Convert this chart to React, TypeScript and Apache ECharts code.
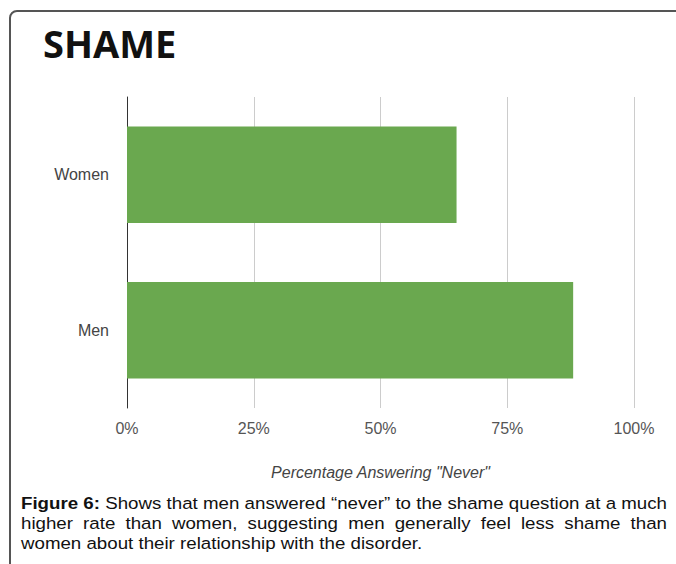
import React, { useEffect, useRef } from "react";
import * as echarts from "echarts";

const categories = ["Women", "Men"];
const neverPct = [65, 88];
const xTicks = [0, 25, 50, 75, 100];
const chartTitle = "SHAME";
const axisName = 'Percentage Answering "Never"';
const captionBold = "Figure 6:";
const captionLines = [
  "Shows that men answered \u201cnever\u201d to the shame question at a much",
  "higher rate than women, suggesting men generally feel less shame than",
  "women about their relationship with the disorder.",
];

const W = 676;
const H = 564;
const SANS = '"Liberation Sans", Arial, sans-serif';
const CAP_SIZE = 17;
const CAP_SX = 1.1;
const CAP_LEFT = 21;
const CAP_RIGHT = 667;
const CAP_Y = [503, 523.5, 543];

function buildCaption(): any[] {
  const cv = document.createElement("canvas");
  const ctx = cv.getContext("2d")!;
  const measure = (t: string, bold: boolean) => {
    ctx.font = `${bold ? "bold " : ""}${CAP_SIZE}px ${SANS}`;
    return ctx.measureText(t).width * CAP_SX;
  };
  const out: any[] = [];
  captionLines.forEach((line, i) => {
    const words: { t: string; b: boolean }[] = [];
    if (i === 0) words.push({ t: captionBold, b: true });
    line.split(" ").forEach((w) => words.push({ t: w, b: false }));
    const widths = words.map((w) => measure(w.t, w.b));
    const total = widths.reduce((a, b) => a + b, 0);
    const justify = i < captionLines.length - 1;
    const gap = justify
      ? (CAP_RIGHT - CAP_LEFT - total) / (words.length - 1)
      : measure(" ", false);
    let x = CAP_LEFT;
    words.forEach((w, k) => {
      out.push({
        type: "text",
        x,
        y: CAP_Y[i],
        scaleX: CAP_SX,
        silent: true,
        style: {
          text: w.t,
          fontSize: CAP_SIZE,
          fontFamily: SANS,
          fontWeight: w.b ? "bold" : "normal",
          fill: "#111",
          align: "left",
          verticalAlign: "middle",
        },
      });
      x += widths[k] + gap;
    });
  });
  return out;
}

export default function App() {
  const ref = useRef<HTMLDivElement>(null);
  useEffect(() => {
    if (!ref.current) return;
    const chart = echarts.init(ref.current, undefined, { renderer: "svg" });
    const option: any = {
      animation: false,
      backgroundColor: "#fff",
      grid: { left: 127, right: W - 634, top: 97, bottom: H - 408, containLabel: false },
      xAxis: {
        type: "value",
        min: xTicks[0],
        max: xTicks[xTicks.length - 1],
        interval: xTicks[1] - xTicks[0],
        name: axisName,
        nameLocation: "middle",
        nameGap: 56,
        nameTextStyle: {
          fontStyle: "italic",
          fontSize: 16,
          color: "#444",
          fontFamily: SANS,
        },
        axisLine: { show: false },
        axisTick: { show: false },
        axisLabel: {
          formatter: "{value}%",
          fontSize: 16,
          color: "#555",
          fontFamily: SANS,
          margin: 12,
        },
        splitLine: { show: true, lineStyle: { color: "#cccccc", width: 1 } },
      },
      yAxis: {
        type: "category",
        data: categories,
        inverse: true,
        axisLine: { show: true, lineStyle: { color: "#333", width: 1 } },
        axisTick: { show: false },
        axisLabel: { fontSize: 16, color: "#444", fontFamily: SANS, margin: 18 },
        splitLine: { show: false },
      },
      series: [
        {
          type: "bar",
          data: neverPct,
          barCategoryGap: "38%",
          itemStyle: { color: "#6aa84f" },
          silent: true,
        },
      ],
      graphic: [
        {
          type: "rect",
          silent: true,
          shape: { x: 10, y: 11, width: 760, height: 660, r: 7 },
          style: { fill: "none", stroke: "#555", lineWidth: 2 },
        },
        {
          type: "text",
          x: 43,
          y: 42.5,
          silent: true,
          style: {
            text: chartTitle,
            fontSize: 38,
            fontWeight: "bold",
            fontFamily: '"Open Sans", sans-serif',
            fill: "#111",
            align: "left",
            verticalAlign: "middle",
          },
        },
        ...buildCaption(),
      ],
    };
    chart.setOption(option);
    return () => chart.dispose();
  }, []);
  return (
    <div
      ref={ref}
      style={{ position: "fixed", left: 0, top: 0, width: W, height: H }}
    />
  );
}
